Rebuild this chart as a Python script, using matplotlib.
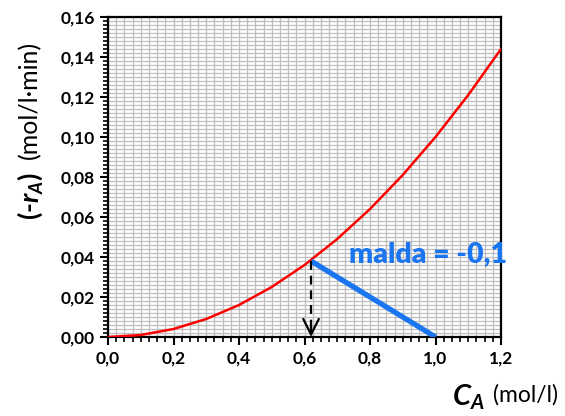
import numpy as np
import matplotlib
matplotlib.use('Agg')
import matplotlib.pyplot as plt
from matplotlib.ticker import MultipleLocator, FuncFormatter

# rate curve
ca = [0.0, 0.1, 0.2, 0.3, 0.4, 0.5, 0.6, 0.7, 0.8, 0.9, 1.0, 1.1, 1.2]
ra = [0.0, 0.001, 0.004, 0.009, 0.016, 0.025, 0.036, 0.049, 0.064, 0.081, 0.100, 0.121, 0.144]

# tangent (slope) line and the dropped dashed arrow
slope_x = [0.62, 1.0]
slope_y = [0.038, 0.0]
slope_label = 'malda = -0,1'

plt.rcParams['font.family'] = ['Lato', 'DejaVu Sans']
plt.rcParams['mathtext.fontset'] = 'custom'
plt.rcParams['mathtext.it'] = 'Lato:italic:bold'
plt.rcParams['mathtext.rm'] = 'Lato:bold'

fig = plt.figure(figsize=(5.65, 4.16), dpi=100)
ax = fig.add_axes([108/565, 1-337/416, 393/565, 320/416])

ax.plot(ca, ra, color='#ff0000', lw=1.8, zorder=3)
ax.plot(slope_x, slope_y, color='#1a75f0', lw=3.8, solid_capstyle='butt', zorder=4)
# dashed drop line, then a solid open arrow head at the axis
ax.plot([slope_x[0], slope_x[0]], [slope_y[0], 0.001], color='black', lw=1.6,
        ls=(0, (4, 2.6)), zorder=5)
ax.annotate('', xy=(slope_x[0], 0.0), xytext=(slope_x[0], 0.006),
            arrowprops=dict(arrowstyle='->', color='black', lw=1.6,
                            mutation_scale=28, shrinkA=0, shrinkB=0), zorder=5)
ax.text(0.735, 0.0412, slope_label, color='#1a75f0', fontsize=20.5, fontweight='heavy',
        ha='left', va='center', clip_on=False, zorder=6)

ax.set_xlim(0, 1.2)
ax.set_ylim(0, 0.16)
ax.xaxis.set_major_locator(MultipleLocator(0.2))
ax.xaxis.set_minor_locator(MultipleLocator(0.025))
ax.yaxis.set_major_locator(MultipleLocator(0.02))
ax.yaxis.set_minor_locator(MultipleLocator(0.002))
ax.xaxis.set_major_formatter(FuncFormatter(lambda v, p: f'{v:.1f}'.replace('.', ',')))
ax.yaxis.set_major_formatter(FuncFormatter(lambda v, p: f'{v:.2f}'.replace('.', ',')))

ax.grid(which='both', color='#bebebe', lw=0.9)
ax.set_axisbelow(True)
for s in ax.spines.values():
    s.set_linewidth(1.6)
ax.tick_params(which='major', direction='out', length=6, width=1.5, labelsize=12.5)
ax.tick_params(which='minor', direction='out', length=3.5, width=1.2)
for lab in ax.get_xticklabels() + ax.get_yticklabels():
    lab.set_fontweight('bold')

fig.text(30/565, 1-196/416, '(-$r_A$)', rotation=90, fontsize=19, fontweight='bold',
         ha='center', va='center')
fig.text(30/565, 1-100/416, '(mol/l·min)', rotation=90, fontsize=18,
         ha='center', va='center')
fig.text(468/565, 1-397/416, '$C_A$', fontsize=21, ha='center', va='center')
fig.text(526/565, 1-395/416, '(mol/l)', fontsize=16.5, ha='center', va='center')

fig.savefig('out.png', dpi=100)
